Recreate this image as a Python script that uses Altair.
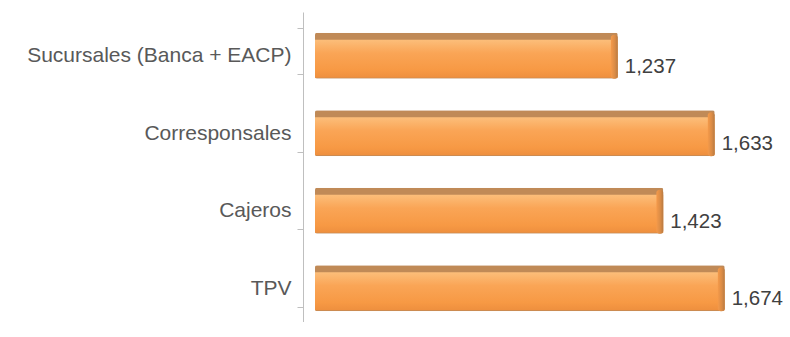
import altair as alt
import pandas as pd

# Channel counts
canales = ["Sucursales (Banca + EACP)", "Corresponsales", "Cajeros", "TPV"]
valores = [1237, 1633, 1423, 1674]

df = pd.DataFrame({"canal": canales, "valor": valores})

FONT = "Liberation Sans"

y_enc = alt.Y(
    "canal:N",
    sort=canales,
    scale=alt.Scale(paddingInner=0.4, paddingOuter=0.2),
    axis=alt.Axis(
        title=None,
        tickBand="extent",
        offset=12,
        domainColor="#BFBFBF",
        tickColor="#BFBFBF",
        tickSize=6,
        labelFont=FONT,
        labelFontSize=21,
        labelColor="#595959",
        labelPadding=6,
        labelOffset=5,
        labelLimit=400,
    ),
)
x_scale = alt.Scale(domain=[0, 1900])
x_enc = alt.X("valor:Q", scale=x_scale, axis=None)

base = alt.Chart(df)

# body of each bar: darker top face and bottom edge
body = base.mark_bar(size=46, yOffset=5, color="#C08A57", cornerRadius=2).encode(
    x=x_enc, y=y_enc
)

# front face with a vertical orange gradient
front_fill = alt.LinearGradient(
    gradient="linear",
    x1=0, x2=0, y1=0, y2=1,
    stops=[
        alt.GradientStop(color="#FCBE7A", offset=0),
        alt.GradientStop(color="#FAA556", offset=0.35),
        alt.GradientStop(color="#F79944", offset=0.8),
        alt.GradientStop(color="#EE8F3E", offset=1),
    ],
)
front = base.mark_bar(size=38, yOffset=8, color=front_fill).encode(x=x_enc, y=y_enc)

# shaded right end cap
cap_fill = alt.LinearGradient(
    gradient="linear",
    x1=0, x2=1, y1=0, y2=0,
    stops=[
        alt.GradientStop(color="#F59A4A", offset=0),
        alt.GradientStop(color="#D98B46", offset=0.6),
        alt.GradientStop(color="#B87A42", offset=1),
    ],
)
cap = base.transform_calculate(inicio="datum.valor - 28").mark_bar(
    size=44, yOffset=6, color=cap_fill, cornerRadius=3
).encode(
    x=alt.X("inicio:Q", scale=x_scale, axis=None),
    x2="valor:Q",
    y=y_enc,
)

labels = base.mark_text(
    align="left", baseline="middle", dx=7, dy=16,
    font=FONT, fontSize=20.5, color="#404040",
).encode(x=x_enc, y=y_enc, text=alt.Text("valor:Q", format=","))

chart = (
    alt.layer(body, front, cap, labels)
    .properties(
        width=465,
        height=310,
        autosize=alt.AutoSizeParams(type="none"),
        padding={"left": 315, "top": 12, "right": 10, "bottom": 0},
        background="white",
    )
    .configure_view(stroke=None)
)

chart.save("out.html", embed_options={"renderer": "svg", "actions": False})
